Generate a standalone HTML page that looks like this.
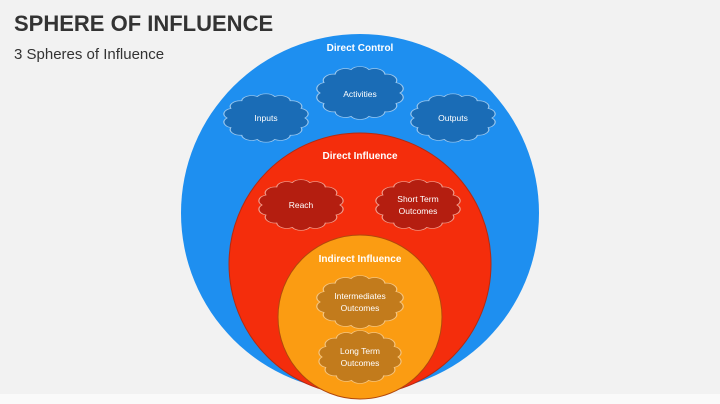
<!DOCTYPE html>
<html><head><meta charset="utf-8"><style>
html,body{margin:0;padding:0;}
body{width:720px;height:404px;background:#f2f2f2;overflow:hidden;position:relative;font-family:"Liberation Sans",sans-serif;}
.t{position:absolute;left:14px;top:11px;font-size:22px;font-weight:bold;color:#333;}
.s{position:absolute;left:14px;top:46px;font-size:15px;color:#333;}
svg{position:absolute;left:0;top:0;}
text{font-family:"Liberation Sans",sans-serif;fill:#fff;text-anchor:middle;}
</style></head><body>
<div class="t">SPHERE OF INFLUENCE</div>
<div class="s">3 Spheres of Influence</div>
<svg width="720" height="404" viewBox="0 0 720 404">
<defs>
<path id="c" d="M1,0 A0.26,0.26 0 0 1 .901,.434 A0.26,0.26 0 0 1 .623,.782 A0.26,0.26 0 0 1 .223,.975 A0.26,0.26 0 0 1 -.223,.975 A0.26,0.26 0 0 1 -.623,.782 A0.26,0.26 0 0 1 -.901,.434 A0.26,0.26 0 0 1 -1,0 A0.26,0.26 0 0 1 -.901,-.434 A0.26,0.26 0 0 1 -.623,-.782 A0.26,0.26 0 0 1 -.223,-.975 A0.26,0.26 0 0 1 .223,-.975 A0.26,0.26 0 0 1 .623,-.782 A0.26,0.26 0 0 1 .901,-.434 A0.26,0.26 0 0 1 1,0 Z"/>
</defs>
<rect x="0" y="394" width="720" height="10" fill="#fafafa"/>
<circle cx="360" cy="213" r="179" fill="#1e8ff0"/>
<circle cx="360" cy="264" r="131" fill="#f42d0c" stroke="#b52a10" stroke-width="1"/>
<circle cx="360" cy="317" r="82" fill="#fb9c12" stroke="#b2480c" stroke-width="1"/>
<g stroke="#9cc8ee" fill="#1a6cb6">
<use href="#c" transform="translate(266,118) scale(39,22)" style="stroke-width:0.03"/>
<use href="#c" transform="translate(360,93) scale(40,24)" style="stroke-width:0.03"/>
<use href="#c" transform="translate(453,118) scale(39,22)" style="stroke-width:0.03"/>
</g>
<g stroke="#f0a090" fill="#b41e10">
<use href="#c" transform="translate(301,205) scale(39,23)" style="stroke-width:0.03"/>
<use href="#c" transform="translate(418,205) scale(39,23)" style="stroke-width:0.03"/>
</g>
<g stroke="#f5c580" fill="#c27b1c">
<use href="#c" transform="translate(360,302) scale(40,24)" style="stroke-width:0.03"/>
<use href="#c" transform="translate(360,357) scale(38,24)" style="stroke-width:0.03"/>
</g>
<g font-size="10" font-weight="bold">
<text x="360" y="51">Direct Control</text>
<text x="360" y="159">Direct Influence</text>
<text x="360" y="262">Indirect Influence</text>
</g>
<g font-size="8.5">
<text x="266" y="121">Inputs</text>
<text x="360" y="97">Activities</text>
<text x="453" y="121">Outputs</text>
<text x="301" y="208">Reach</text>
<text x="418" y="202">Short Term</text>
<text x="418" y="214">Outcomes</text>
<text x="360" y="299">Intermediates</text>
<text x="360" y="311">Outcomes</text>
<text x="360" y="354">Long Term</text>
<text x="360" y="366">Outcomes</text>
</g>
</svg>
</body></html>
